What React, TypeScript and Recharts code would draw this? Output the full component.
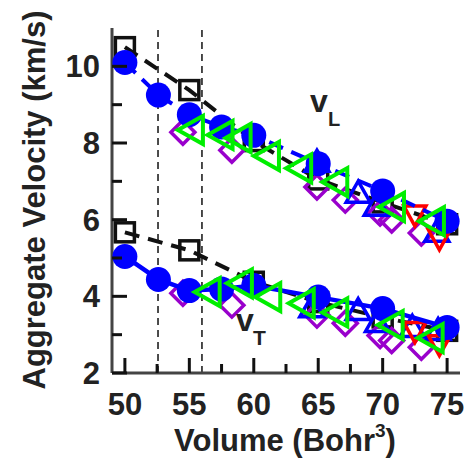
import { ScatterChart, Scatter, XAxis, YAxis, ReferenceLine } from "recharts";

// volumes (Bohr^3) and velocities (km/s)
const squareVol = [50, 55, 60, 65, 70, 75];
const squareVL = [10.5, 9.38, 8.05, 7.05, 6.45, 5.88];
const squareVT = [5.67, 5.2, 4.38, 3.85, 3.45, 3.1];

const circleVol = [50, 52.6, 55, 57.5, 60, 65, 70, 75];
const circleVL = [10.1, 9.25, 8.74, 8.42, 8.2, 7.46, 6.75, 5.96];
const circleVT = [5.04, 4.44, 4.15, 4.19, 4.28, 3.98, 3.68, 3.19];

const diamondVol = [54.5, 58.3, 64.9, 67.1, 69.8, 70.7, 73.0];
const diamondVL = [8.28, 7.81, 6.85, 6.51, 6.17, 5.99, 5.65];
const diamondVT = [4.08, 3.77, 3.51, 3.3, 2.98, 2.85, 2.67];

const greenVolL = [55.2, 57.5, 58.9, 61.1, 63.6, 66.4, 70.8, 73.9];
const greenVL = [8.34, 8.21, 8.13, 7.66, 7.34, 6.98, 6.33, 5.96];
const greenVolT = [56.5, 59.0, 61.2, 63.8, 66.4, 70.7, 73.8];
const greenVT = [4.11, 4.34, 3.98, 3.82, 3.58, 3.25, 2.91];

const blueTriVolL = [64.9, 68.1, 69.5, 74.2];
const blueTriVL = [7.5, 6.69, 6.35, 5.67];
const blueTriVolT = [64.5, 68.1, 69.6, 72.3, 74.3];
const blueTriVT = [3.7, 3.63, 3.32, 3.19, 3.11];

const redVol = [72.5, 74.4];
const redVL = [6.12, 5.5];
const redVT = [3.08, 2.74];

const transitions = [52.57, 55.98];

const xTicks = [50, 52.5, 55, 57.5, 60, 62.5, 65, 67.5, 70, 72.5, 75];
const yTicks = [2, 3, 4, 5, 6, 7, 8, 9, 10];

const pts = (xs: number[], ys: number[]) => xs.map((x, i) => ({ x, y: ys[i] }));

const FONT = "'Liberation Sans', Arial, Helvetica, sans-serif";
const P = { left: 104, right: 452, top: 20, bottom: 365 };
const FRAME = "#444";

const SquareShape = (p: any) => (
    <rect x={p.cx - 9.5} y={p.cy - 9.5} width={19} height={19} fill="none" stroke="#111" strokeWidth={3.5} />
);
const CircleShape = (p: any) => <circle cx={p.cx} cy={p.cy} r={12.5} fill="#0000ff" />;
const DiamondShape = (p: any) => (
    <polygon
        points={`${p.cx},${p.cy - 12} ${p.cx + 12},${p.cy} ${p.cx},${p.cy + 12} ${p.cx - 12},${p.cy}`}
        fill="none"
        stroke="#9900cc"
        strokeWidth={3.5}
    />
);
const LeftTriShape = (p: any) => (
    <polygon
        points={`${p.cx - 14},${p.cy} ${p.cx + 11},${p.cy - 14} ${p.cx + 11},${p.cy + 14}`}
        fill="none"
        stroke="#00ee00"
        strokeWidth={4}
    />
);
const UpTriShape = (p: any) => (
    <polygon
        points={`${p.cx},${p.cy - 12} ${p.cx + 12},${p.cy + 9} ${p.cx - 12},${p.cy + 9}`}
        fill="none"
        stroke="#0000ff"
        strokeWidth={3.5}
    />
);
const DownTriShape = (p: any) => (
    <polygon
        points={`${p.cx - 11},${p.cy - 9} ${p.cx + 11},${p.cy - 9} ${p.cx},${p.cy + 11}`}
        fill="none"
        stroke="#ff0000"
        strokeWidth={3.5}
    />
);

const isMajorX = (v: number) => v % 5 === 0;
const isMajorY = (v: number) => v % 2 === 0;

const BottomTick = (p: any) => {
    const v = p.payload.value;
    const len = isMajorX(v) ? 15 : 9;
    return (
        <g>
            <line x1={p.x} x2={p.x} y1={P.bottom} y2={P.bottom - len} stroke="#111" strokeWidth={3} />
            {isMajorX(v) && (
                <text x={p.x} y={407} textAnchor="middle" fontFamily={FONT} fontWeight="bold" fontSize={31} fill="#222">
                    {v}
                </text>
            )}
        </g>
    );
};
const TopTick = (p: any) => {
    const len = isMajorX(p.payload.value) ? 15 : 9;
    return <line x1={p.x} x2={p.x} y1={P.top} y2={P.top + len} stroke="#111" strokeWidth={3} />;
};
const LeftTick = (p: any) => {
    const v = p.payload.value;
    const len = isMajorY(v) ? 15 : 10;
    return (
        <g>
            <line x1={P.left} x2={P.left + len} y1={p.y} y2={p.y} stroke="#111" strokeWidth={3} />
            {isMajorY(v) && (
                <text x={92} y={p.y + 11} textAnchor="end" fontFamily={FONT} fontWeight="bold" fontSize={31} fill="#222">
                    {v}
                </text>
            )}
        </g>
    );
};
const RightTick = (p: any) => {
    const len = isMajorY(p.payload.value) ? 15 : 10;
    return <line x1={P.right} x2={P.right - len} y1={p.y} y2={p.y} stroke="#111" strokeWidth={3} />;
};

const blackLine = { stroke: "#111", strokeWidth: 4, strokeDasharray: "15 9" };
const blueDash = { stroke: "#0000ff", strokeWidth: 4, strokeDasharray: "15 9" };
const blueSolid = { stroke: "#0000ff", strokeWidth: 4.5 };

function App() {
    return (
        <div style={{ position: "relative", width: 465, height: 464 }}>
            <ScatterChart width={465} height={464} margin={{ top: 20, right: 13, left: 0, bottom: 0 }}>
                <XAxis
                    type="number"
                    dataKey="x"
                    domain={[49, 76]}
                    ticks={xTicks}
                    interval={0}
                    height={99}
                    axisLine={{ stroke: FRAME, strokeWidth: 3 }}
                    tickLine={false}
                    tick={BottomTick}
                    allowDataOverflow
                />
                <XAxis
                    xAxisId="top"
                    orientation="top"
                    type="number"
                    dataKey="x"
                    domain={[49, 76]}
                    ticks={xTicks}
                    interval={0}
                    height={0}
                    axisLine={{ stroke: FRAME, strokeWidth: 3 }}
                    tickLine={false}
                    tick={TopTick}
                    allowDataOverflow
                />
                <YAxis
                    type="number"
                    dataKey="y"
                    domain={[2, 11]}
                    ticks={yTicks}
                    interval={0}
                    width={104}
                    axisLine={{ stroke: FRAME, strokeWidth: 3 }}
                    tickLine={false}
                    tick={LeftTick}
                    allowDataOverflow
                />
                <YAxis
                    yAxisId="right"
                    orientation="right"
                    type="number"
                    dataKey="y"
                    domain={[2, 11]}
                    ticks={yTicks}
                    interval={0}
                    width={0}
                    axisLine={{ stroke: FRAME, strokeWidth: 3 }}
                    tickLine={false}
                    tick={RightTick}
                    allowDataOverflow
                />
                {transitions.map((t) => (
                    <ReferenceLine key={t} x={t} stroke="#111" strokeWidth={1.5} strokeDasharray="7 5" />
                ))}
                <Scatter data={pts(squareVol, squareVL)} line={blackLine} shape={SquareShape} isAnimationActive={false} />
                <Scatter data={pts(squareVol, squareVT)} line={blackLine} shape={SquareShape} isAnimationActive={false} />
                <Scatter data={pts(diamondVol, diamondVL)} shape={DiamondShape} isAnimationActive={false} />
                <Scatter data={pts(diamondVol, diamondVT)} shape={DiamondShape} isAnimationActive={false} />
                <Scatter data={pts(blueTriVolL, blueTriVL)} shape={UpTriShape} isAnimationActive={false} />
                <Scatter data={pts(blueTriVolT, blueTriVT)} shape={UpTriShape} isAnimationActive={false} />
                <Scatter data={pts(redVol, redVL)} shape={DownTriShape} isAnimationActive={false} />
                <Scatter data={pts(redVol, redVT)} shape={DownTriShape} isAnimationActive={false} />
                <Scatter data={pts(circleVol, circleVL)} line={blueDash} shape={CircleShape} isAnimationActive={false} />
                <Scatter data={pts(circleVol, circleVT)} line={blueSolid} shape={CircleShape} isAnimationActive={false} />
                <Scatter data={pts(greenVolL, greenVL)} shape={LeftTriShape} isAnimationActive={false} />
                <Scatter data={pts(greenVolT, greenVT)} shape={LeftTriShape} isAnimationActive={false} />
            </ScatterChart>
            <svg
                width={465}
                height={464}
                style={{ position: "absolute", left: 0, top: 0, pointerEvents: "none" }}
                fontFamily={FONT}
                fontWeight="bold"
                fill="#222"
            >
                <text x={302} y={104} fontSize={32}>v</text>
                <text x={320} y={118} fontSize={20}>L</text>
                <text x={228} y={323} fontSize={32}>v</text>
                <text x={245} y={337} fontSize={21}>T</text>
                <text x={37} y={192} fontSize={31} textAnchor="middle" transform="rotate(-90, 37, 192)">
                    Aggregate Velocity (km/s)
                </text>
                <text x={277} y={443} fontSize={31} textAnchor="middle">
                    Volume (Bohr<tspan fontSize={19} dy={-14}>3</tspan>
                    <tspan dy={14}>)</tspan>
                </text>
            </svg>
        </div>
    );
}

export default App;
